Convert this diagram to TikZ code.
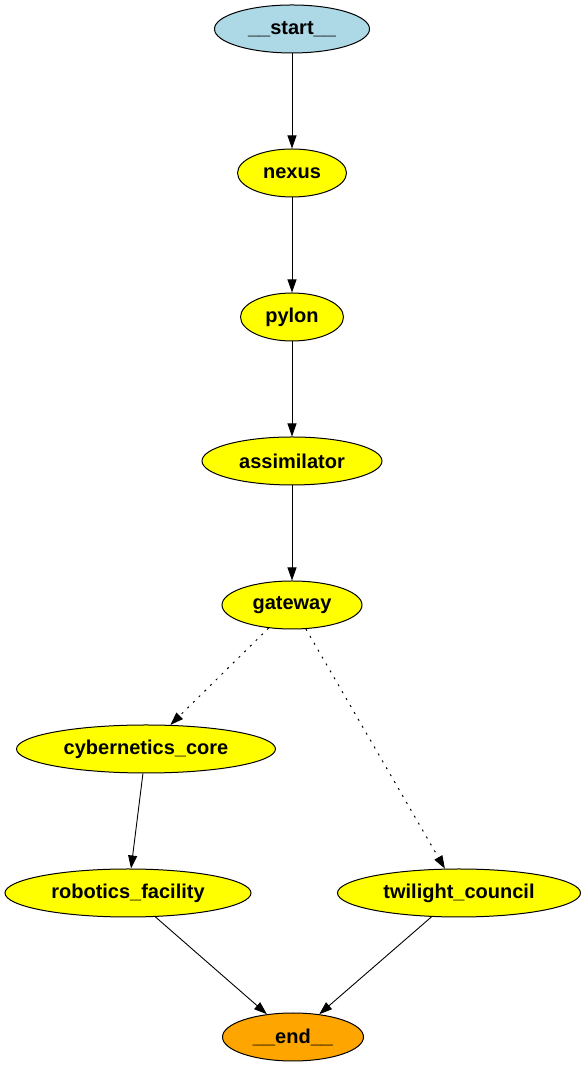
\documentclass[tikz,border=0pt]{standalone}
\usepackage{fontspec}
\setmainfont{Liberation Sans}
\usetikzlibrary{shapes.geometric}
\usetikzlibrary{arrows.meta}

\begin{document}
\begin{tikzpicture}[x=1pt,y=1pt,
    state/.style={draw,ellipse,line width=1pt,inner sep=0pt,minimum height=48pt,font=\fontsize{20}{22}\selectfont\bfseries,fill={rgb,255:red,255;green,255;blue,0}},
    edge/.style={-{Triangle[length=13pt,width=9pt]},line width=0.9pt},
    maybe/.style={edge,line width=1pt,dash pattern=on 2pt off 6pt}]
            \useasboundingbox (0,0) rectangle (586,1067);
            %\node at (293,1100) {graph};
            \node [state,fill={rgb,255:red,173;green,216;blue,230},minimum width=155pt](start) at (292,1038){\_\_start\_\_};
            \node [state,minimum width=109pt](nexus) at (292,894){nexus};
            \node [state,minimum width=103pt](pylon) at (292,750){pylon};
            \node [state,minimum width=180pt](assim) at (292,606){assimilator};
            \node [state,minimum width=140pt](gate) at (292,462){gateway};
            \node [state,minimum width=259pt](cyber) at (146,318){cybernetics\_core};
            \node [state,minimum width=246pt](robo) at (128,174){robotics\_facility};
            \node [state,minimum width=243pt](twil) at (459,174){twilight\_council};
            \node [state,fill={rgb,255:red,255;green,165;blue,0},minimum width=141pt](end) at (293,30){\_\_end\_\_};

        \foreach \a/\b in {start/nexus,nexus/pylon,pylon/assim,assim/gate,cyber/robo,robo/end,twil/end}
            \draw[edge] (\a) -- (\b);

            \draw[maybe] (gate) -- (cyber);
            \draw[maybe] (gate) -- (twil);
        \end{tikzpicture}
\end{document}
